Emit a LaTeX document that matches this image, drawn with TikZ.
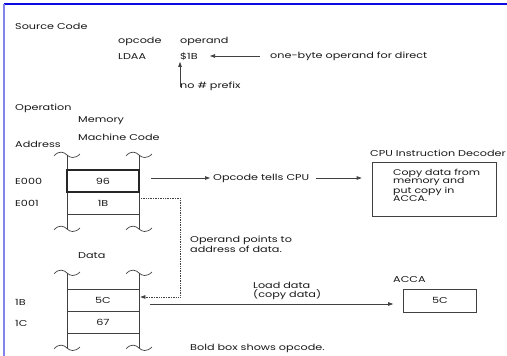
\documentclass[tikz,border=0pt]{standalone}
\usepackage{fontspec}
\setmainfont{Poppins}
\newfontfamily\widefont[FakeStretch=1.32]{Poppins}
\usetikzlibrary{arrows.meta}
\definecolor{ink}{gray}{0.25}
\definecolor{textink}{gray}{0.1}
\definecolor{frameblue}{RGB}{10,10,225}
\definecolor{frameleft}{RGB}{130,130,235}
\begin{document}
\begin{tikzpicture}[x=1pt,y=-1pt,
  txt/.style={anchor=west,inner sep=0pt,font=\widefont\fontsize{8.5}{8}\selectfont,text=textink},
  note/.style={txt,align=left,font=\widefont\fontsize{8.5}{7.5}\selectfont},
  cell/.style={draw=ink,line width=0.7pt,minimum width=72pt,minimum height=22pt,inner sep=0pt,font=\widefont\fontsize{8.5}{8}\selectfont,text=textink},
  boldcell/.style={cell,line width=1.6pt,draw=black!85},
  conn/.style={draw=ink,line width=0.7pt,-{Triangle[length=5pt,width=3.5pt]}},
  dotconn/.style={conn,densely dotted},
  col/.style={draw=ink,line width=0.7pt},
]
\useasboundingbox (0,0) rectangle (507,356);
\fill[white] (0,0) rectangle (507,356);
\draw[frameblue,line width=1.2pt] (4,4) -- (507,4);
\draw[frameleft,line width=1.5pt] (4,4) -- (4,356);

% source code
\node[txt] (src) at (15,26) {Source Code};
\node[txt] (opcodeh) at (118,41) {opcode};
\node[txt] (operandh) at (180,41) {operand};
\node[txt] (ldaa) at (118,57) {LDAA};
\node[txt] (dollar) at (180,57) {\$1B};
\node[txt] (onebyte) at (270,56) {one-byte operand for direct};
\node[txt] (noprefix) at (180,86) {no \# prefix};
\draw[conn] ([xshift=-10pt]onebyte.west) -- ([xshift=30pt]dollar.west |- onebyte.west);
\draw[conn] ([yshift=-6pt]noprefix.north west) -- ([yshift=-1pt]dollar.south west);

\node[txt] (operation) at (15,108) {Operation};
\node[txt] (memory) at (78,121) {Memory};
\node[txt] (mcode) at (78,137) {Machine Code};
\node[txt] (address) at (15,144) {Address};

% top memory block
\draw[col] (67,155) -- (67,229);
\draw[col] (139,155) -- (139,229);
\foreach \x/\y in {67/155,139/155,67/229,139/229}{
  \draw[col] (\x-13,\y+1) .. controls (\x-8,\y-5) and (\x-3,\y-3) .. (\x,\y)
             .. controls (\x+3,\y+3) and (\x+8,\y+4) .. (\x+13,\y-1);
}
\node[cell] (e001) at (103,203) {1B};
\node[boldcell] (e000) at (103,181) {96};
\node[txt] (la) at (15,181) {E000};
\node[txt] (lb) at (15,203) {E001};

\node[txt] (opc) at (213,178) {Opcode tells CPU};
\draw[conn] ([xshift=11pt]e000.east |- opc.west) -- ([xshift=-3pt]opc.west);

\node[txt] (cpuh) at (370,153) {CPU Instruction Decoder};
\node[draw=ink,line width=0.7pt,minimum width=124pt,minimum height=54pt,inner sep=0pt] (dec) at (434,189) {};
\node[anchor=north west,inner sep=0pt,align=left,font=\widefont\fontsize{8.3}{8.4}\selectfont,text=textink] (dectext) at (393,169) {Copy data from\\memory and\\put copy in\\ACCA.};
\draw[conn] ([xshift=7pt]opc.east) -- ([xshift=-10pt]dec.west |- opc.east);

\node[note] (opnote) at (190,244) {Operand points to\\address of data.};

% data block
\node[txt] (data) at (78,256) {Data};
\draw[col] (67,273) -- (67,348);
\draw[col] (139,273) -- (139,348);
\foreach \x/\y in {67/273,139/273,67/348,139/348}{
  \draw[col] (\x-13,\y+1) .. controls (\x-8,\y-5) and (\x-3,\y-3) .. (\x,\y)
             .. controls (\x+3,\y+3) and (\x+8,\y+4) .. (\x+13,\y-1);
}
\node[cell] (d5c) at (103,300) {5C};
\node[cell] (d67) at (103,322.5) {67};
\node[txt] (l1b) at (15,302) {1B};
\node[txt] (l1c) at (15,323) {1C};

\coordinate (dA) at (180,198);
\coordinate (dB) at (180,297);
\draw[dotconn] (e001.east |- dA) -- (dA) -- (dB) -- ([xshift=1pt]d5c.east |- dB);

\node[note] (loadnote) at (253,291) {Load data\\(copy data)};
\node[txt] (accah) at (393,280) {ACCA};
\node[cell,minimum width=73pt,minimum height=23pt] (acca) at (440,300.5) {5C};
\draw[conn] ([xshift=11pt]d5c.east |- 0,304) -- ([xshift=-10pt]acca.west |- 0,304);

\node[txt] (boldnote) at (190,348) {Bold box shows opcode.};
\end{tikzpicture}
\end{document}
